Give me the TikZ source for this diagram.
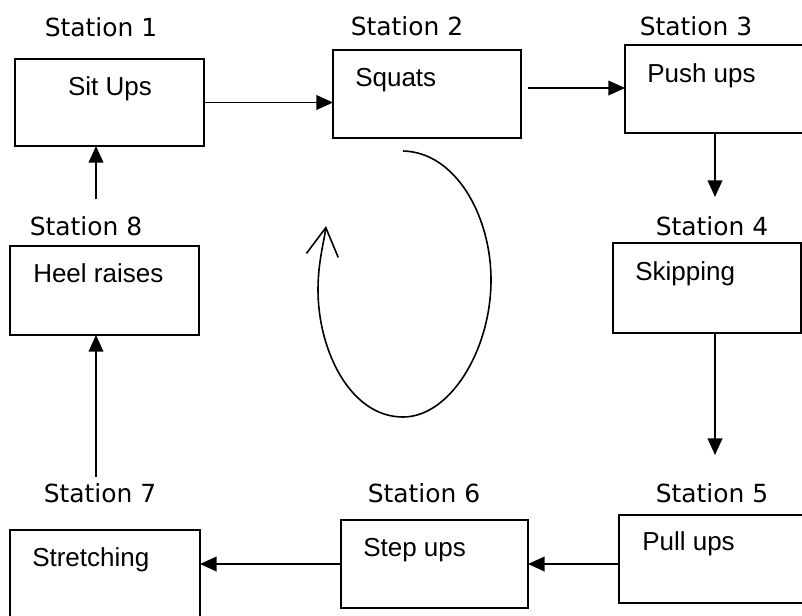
\documentclass[tikz,border=0pt]{standalone}
\usepackage{fontspec}
\setmainfont{Liberation Sans}
\newfontfamily\stfont{DejaVu Sans}
\usetikzlibrary{arrows.meta,fit}
\begin{document}
\begin{tikzpicture}[x=0.75pt,y=-0.75pt,
  box/.style={draw,line width=1.3pt,inner sep=0pt,outer sep=0pt},
  lab/.style={font=\stfont\fontsize{18.7pt}{22pt}\selectfont,anchor=base,inner sep=0pt},
  txt/.style={font=\fontsize{19.5pt}{23pt}\selectfont,anchor=base west,inner sep=0pt},
  conn/.style={line width=1.3pt,-{Triangle[length=12.5pt,width=11pt]}},
  loopline/.style={line width=1.2pt,-{Straight Barb[length=21pt,width=24pt,line width=1.2pt]}}]
\useasboundingbox (0,0) rectangle (802,615);
% boxes
\node[box,fit={(15,59) (204,146)}] (b1) {};
\node[box,fit={(333,50) (521,138)}] (b2) {};
\node[box,fit={(625,45) (808,133)}] (b3) {};
\node[box,fit={(613,243) (801,333)}] (b4) {};
\node[box,fit={(619,515) (808,603)}] (b5) {};
\node[box,fit={(341,520) (528,608)}] (b6) {};
\node[box,fit={(10,530) (200,622)}] (b7) {};
\node[box,fit={(10,246) (199,335)}] (b8) {};
% station labels
\node[lab] (l1) at (101,36) {Station 1};
\node[lab] (l2) at (407,35) {Station 2};
\node[lab] (l3) at (696,35) {Station 3};
\node[lab] (l4) at (712,235) {Station 4};
\node[lab] (l5) at (712,502) {Station 5};
\node[lab] (l6) at (424,502) {Station 6};
\node[lab] (l7) at (100,502) {Station 7};
\node[lab] (l8) at (86,235) {Station 8};
% box texts
\node[txt,anchor=base] (t1) at (110,95) {Sit Ups};
\node[txt] (t2) at (355,86) {Squats};
\node[txt] (t3) at (647,82) {Push ups};
\node[txt] (t4) at (635,280) {Skipping};
\node[txt] (t5) at (642,550) {Pull ups};
\node[txt] (t6) at (363,556) {Step ups};
\node[txt] (t7) at (32,566) {Stretching};
\node[txt] (t8) at (33,282) {Heel raises};
% free ends
\coordinate (s23) at (528,88);
\coordinate (e34) at (715,197);
\coordinate (s45) at (715,333);
\coordinate (e45) at (715,455);
\coordinate (s78) at (96,477);
\coordinate (s81) at (96,199);
\coordinate (ls) at (403,151);
% connectors
\draw[conn] (b1.east) -- (b2.west |- b1.east);
\draw[conn] (s23) -- (b3.west |- s23);
\draw[conn] (b3.south -| e34) -- (e34);
\draw[conn] (s45) -- (e45);
\draw[conn] (b5.west |- b6.east) -- (b6.east);
\draw[conn] (b6.west) -- (b7.east |- b6.west);
\draw[conn] (s78) -- (s78 |- b8.south);
\draw[conn] (s81) -- (s81 |- b1.south);
% loop
\draw[loopline] (ls) .. controls (455,152) and (491,215) .. (491,280)
  .. controls (491,350) and (450,417) .. (403,417)
  .. controls (350,417) and (318,350) .. (318,290)
  .. controls (318,262) and (324,242) .. (326,226);
\end{tikzpicture}
\end{document}
